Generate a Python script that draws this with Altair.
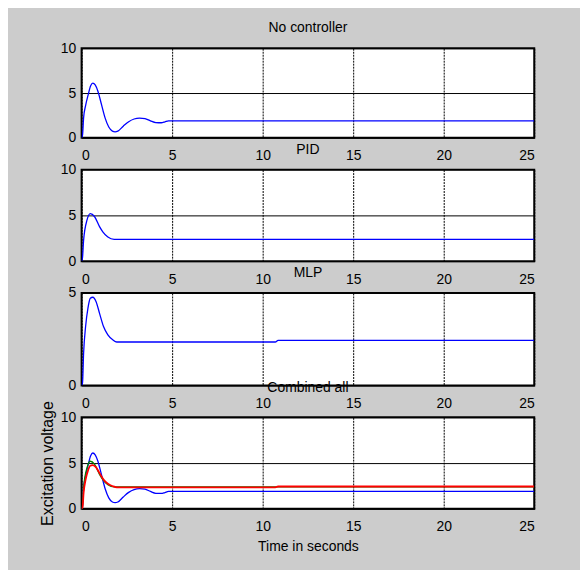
import altair as alt
import pandas as pd

# No controller response (blue)
t_none = [0, 0.05, 0.11, 0.22, 0.35, 0.5, 0.62, 0.75, 0.9, 1.1, 1.3, 1.5, 1.7, 1.85, 2.0, 2.3, 2.6,
          2.9, 3.2, 3.5, 3.8, 4.1, 4.4, 4.6, 4.8, 25]
v_none = [0, 0.3, 2.25, 3.6, 4.7, 5.8, 6.1, 5.9, 5.2, 3.7, 2.2, 1.2, 0.75, 0.67, 0.75, 1.3, 1.8,
          2.1, 2.2, 2.15, 1.9, 1.7, 1.68, 1.78, 1.9, 1.9]

# PID response
t_pid = [0, 0.05, 0.11, 0.3, 0.48, 0.72, 0.99, 1.17, 1.45, 1.8, 25]
v_pid = [0, 0.4, 2.3, 4.5, 5.2, 4.85, 3.77, 3.2, 2.64, 2.39, 2.39]

# MLP response
t_mlp = [0, 0.05, 0.11, 0.22, 0.35, 0.48, 0.62, 0.8, 0.99, 1.21, 1.45, 1.72, 1.94, 10.7, 10.85, 25]
v_mlp = [0, 0.14, 1.76, 3.19, 4.18, 4.71, 4.77, 4.53, 3.9, 3.19, 2.74, 2.47, 2.35, 2.35, 2.44, 2.44]

x_ticks = [0, 5, 10, 15, 20, 25]
titles = ["No controller", "PID", "MLP", "Combined all"]

FONT = "Liberation Sans"


def frame(t, v):
    return pd.DataFrame({"t": t, "v": v})


def line(df, color, ydom, yticks, xtitle=None, ytitle=None, sw=1.3):
    return alt.Chart(df).mark_line(color=color, strokeWidth=sw, interpolate="monotone", clip=True).encode(
        x=alt.X("t:Q", scale=alt.Scale(domain=[0, 25], nice=False, zero=False),
                axis=alt.Axis(values=x_ticks, title=xtitle, grid=True, gridDash=[2, 1],
                              labelPadding=11, titlePadding=6, titleFontSize=14)),
        y=alt.Y("v:Q", scale=alt.Scale(domain=ydom, nice=False),
                axis=alt.Axis(values=yticks, title=ytitle, grid=True, labelPadding=6,
                              titlePadding=5, titleFontSize=16)),
    )


def panel(title, layers, h):
    return alt.layer(*layers).properties(
        width=455, height=h,
        title=alt.TitleParams(title, anchor="middle", offset=6),
    )


p1 = panel(titles[0], [line(frame(t_none, v_none), "#0000ff", [0, 10], [0, 5, 10])], 90)
p2 = panel(titles[1], [line(frame(t_pid, v_pid), "#0000ff", [0, 10], [0, 5, 10])], 92)
p3 = panel(titles[2], [line(frame(t_mlp, v_mlp), "#0000ff", [0, 5], [0, 5])], 93)
p4 = panel(titles[3], [
    line(frame(t_none, v_none), "#0000ff", [0, 10], [0, 5, 10],
         xtitle="Time in seconds", ytitle="Excitation voltage"),
    line(frame(t_pid, v_pid), "#008000", [0, 10], [0, 5, 10],
         xtitle="Time in seconds", ytitle="Excitation voltage"),
    line(frame(t_mlp, v_mlp), "#ff0000", [0, 10], [0, 5, 10],
         xtitle="Time in seconds", ytitle="Excitation voltage", sw=1.8),
], 92)

chart = alt.VConcatChart(vconcat=[p1, p2, p3, p4], spacing=32, bounds="flush").properties(
    padding={"left": 30, "top": 11, "right": 45, "bottom": 14},
    background="#cccccc",
).configure_view(
    stroke="black", strokeWidth=2, fill="white"
).configure_axis(
    domain=False, ticks=False, gridColor="black", gridWidth=1, gridOpacity=1,
    labelFont=FONT, labelFontSize=14, labelColor="black",
    titleFont=FONT, titleFontWeight="normal", titleColor="black",
).configure_title(
    font=FONT, fontSize=14, fontWeight="normal", color="black"
)

chart.save("out.html", embed_options={"renderer": "svg", "actions": False})
